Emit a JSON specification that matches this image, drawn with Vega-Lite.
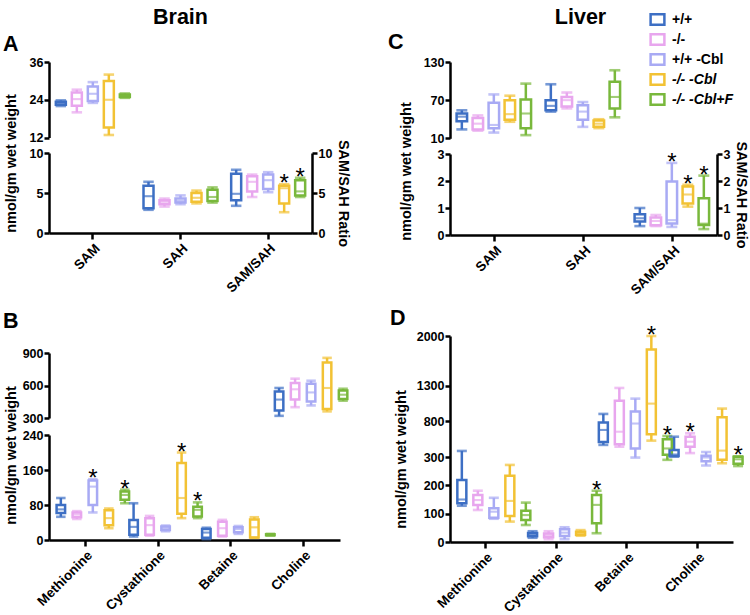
{
"$schema":"https://vega.github.io/schema/vega-lite/v6.json",
"autosize":{"type":"none"},
"padding":{"left":49,"top":52,"right":701,"bottom":563},
"background":"white",
"config":{
 "font":"Liberation Sans",
 "view":{"stroke":null},
 "axis":{"domainColor":"black","domainWidth":2.5,"tickColor":"black","tickWidth":2.5,"tickSize":5,"labelFontWeight":"bold","labelFontSize":12.5,"labelColor":"black","labelPadding":1,"labelOverlap":false,"titleFontWeight":"bold","titleFontSize":14.5,"titleColor":"black","grid":false},
 "title":{"fontSize":21.5,"fontWeight":"bold","color":"black","baseline":"alphabetic"},
 "legend":{"title":null,"orient":"none","legendX":600,"legendY":-41,"padding":0,"symbolType":"M-1,-0.75H1V0.75H-1Z","symbolSize":190,"symbolStrokeWidth":2.5,"labelFontSize":14,"labelFontWeight":"bold","labelColor":"black","labelOffset":6,"rowPadding":-1}
},
"datasets":{
"A":[
{"cat":"SAM","grp":"+/+","min":22.0,"q1":22.4,"med":22.9,"q3":23.4,"max":23.8,"star":false},
{"cat":"SAM","grp":"-/-","min":20.0,"q1":22.1,"med":24.2,"q3":26.3,"max":27.2,"star":false},
{"cat":"SAM","grp":"+/+ -Cbl","min":23.0,"q1":23.6,"med":25.9,"q3":28.2,"max":29.6,"star":false},
{"cat":"SAM","grp":"-/- -Cbl","min":12.8,"q1":15.2,"med":24.0,"q3":30.0,"max":32.0,"star":false},
{"cat":"SAM","grp":"-/- -Cbl+F","min":24.6,"q1":24.9,"med":25.3,"q3":25.7,"max":26.0,"star":false},
{"cat":"SAH","grp":"+/+","min":2.9,"q1":3.1,"med":4.6,"q3":5.9,"max":6.4,"star":false},
{"cat":"SAH","grp":"-/-","min":3.3,"q1":3.6,"med":3.9,"q3":4.1,"max":4.3,"star":false},
{"cat":"SAH","grp":"+/+ -Cbl","min":3.6,"q1":3.8,"med":4.0,"q3":4.3,"max":4.7,"star":false},
{"cat":"SAH","grp":"-/- -Cbl","min":3.7,"q1":3.9,"med":4.4,"q3":5.0,"max":5.3,"star":false},
{"cat":"SAH","grp":"-/- -Cbl+F","min":3.8,"q1":4.0,"med":4.5,"q3":5.4,"max":5.7,"star":false},
{"cat":"SAM/SAH","grp":"+/+","min":3.4,"q1":4.1,"med":4.9,"q3":7.4,"max":7.9,"star":false},
{"cat":"SAM/SAH","grp":"-/-","min":4.5,"q1":5.2,"med":6.4,"q3":7.1,"max":7.3,"star":false},
{"cat":"SAM/SAH","grp":"+/+ -Cbl","min":5.1,"q1":5.5,"med":6.6,"q3":7.3,"max":7.6,"star":false},
{"cat":"SAM/SAH","grp":"-/- -Cbl","min":2.6,"q1":3.7,"med":5.6,"q3":5.9,"max":6.1,"star":true},
{"cat":"SAM/SAH","grp":"-/- -Cbl+F","min":4.5,"q1":4.7,"med":5.2,"q3":6.6,"max":6.9,"star":true}
],
"B":[
{"cat":"Methionine","grp":"+/+","min":53,"q1":62,"med":70,"q3":80,"max":96,"star":false},
{"cat":"Methionine","grp":"-/-","min":48,"q1":52,"med":58,"q3":63,"max":66,"star":false},
{"cat":"Methionine","grp":"+/+ -Cbl","min":63,"q1":80,"med":122,"q3":136,"max":139,"star":true},
{"cat":"Methionine","grp":"-/- -Cbl","min":27,"q1":34,"med":50,"q3":68,"max":72,"star":false},
{"cat":"Methionine","grp":"-/- -Cbl+F","min":84,"q1":92,"med":103,"q3":111,"max":115,"star":true},
{"cat":"Cystathione","grp":"+/+","min":8,"q1":12,"med":30,"q3":46,"max":84,"star":false},
{"cat":"Cystathione","grp":"-/-","min":10,"q1":12,"med":34,"q3":50,"max":55,"star":false},
{"cat":"Cystathione","grp":"+/+ -Cbl","min":20,"q1":23,"med":27,"q3":31,"max":33,"star":false},
{"cat":"Cystathione","grp":"-/- -Cbl","min":50,"q1":60,"med":96,"q3":176,"max":200,"star":true},
{"cat":"Cystathione","grp":"-/- -Cbl+F","min":50,"q1":54,"med":69,"q3":76,"max":86,"star":true},
{"cat":"Betaine","grp":"+/+","min":2,"q1":5,"med":17,"q3":25,"max":28,"star":false},
{"cat":"Betaine","grp":"-/-","min":8,"q1":10,"med":27,"q3":42,"max":46,"star":false},
{"cat":"Betaine","grp":"+/+ -Cbl","min":14,"q1":18,"med":25,"q3":29,"max":32,"star":false},
{"cat":"Betaine","grp":"-/- -Cbl","min":5,"q1":6,"med":29,"q3":47,"max":52,"star":false},
{"cat":"Betaine","grp":"-/- -Cbl+F","min":10,"q1":11,"med":12,"q3":13,"max":14,"star":false},
{"cat":"Choline","grp":"+/+","min":320,"q1":370,"med":470,"q3":545,"max":577,"star":false},
{"cat":"Choline","grp":"-/-","min":400,"q1":470,"med":565,"q3":623,"max":663,"star":false},
{"cat":"Choline","grp":"+/+ -Cbl","min":416,"q1":453,"med":536,"q3":617,"max":644,"star":false},
{"cat":"Choline","grp":"-/- -Cbl","min":361,"q1":383,"med":577,"q3":813,"max":855,"star":false},
{"cat":"Choline","grp":"-/- -Cbl+F","min":460,"q1":475,"med":515,"q3":555,"max":570,"star":false}
],
"C":[
{"cat":"SAM","grp":"+/+","min":24,"q1":37,"med":44,"q3":49,"max":54,"star":false},
{"cat":"SAM","grp":"-/-","min":22,"q1":24,"med":33,"q3":42,"max":46,"star":false},
{"cat":"SAM","grp":"+/+ -Cbl","min":19,"q1":26,"med":31,"q3":66,"max":79,"star":false},
{"cat":"SAM","grp":"-/- -Cbl","min":36,"q1":39,"med":48,"q3":70,"max":77,"star":false},
{"cat":"SAM","grp":"-/- -Cbl+F","min":15,"q1":26,"med":49,"q3":71,"max":96,"star":false},
{"cat":"SAH","grp":"+/+","min":52,"q1":54,"med":61,"q3":70,"max":95,"star":false},
{"cat":"SAH","grp":"-/-","min":57,"q1":60,"med":70,"q3":75,"max":82,"star":false},
{"cat":"SAH","grp":"+/+ -Cbl","min":28,"q1":39,"med":52,"q3":62,"max":67,"star":false},
{"cat":"SAH","grp":"-/- -Cbl","min":26,"q1":28,"med":33,"q3":38,"max":40,"star":false},
{"cat":"SAH","grp":"-/- -Cbl+F","min":43,"q1":57,"med":75,"q3":99,"max":117,"star":false},
{"cat":"SAM/SAH","grp":"+/+","min":0.33,"q1":0.5,"med":0.62,"q3":0.77,"max":1.0,"star":false},
{"cat":"SAM/SAH","grp":"-/-","min":0.33,"q1":0.36,"med":0.52,"q3":0.65,"max":0.74,"star":false},
{"cat":"SAM/SAH","grp":"+/+ -Cbl","min":0.3,"q1":0.43,"med":0.55,"q3":1.98,"max":2.67,"star":true},
{"cat":"SAM/SAH","grp":"-/- -Cbl","min":1.05,"q1":1.17,"med":1.5,"q3":1.8,"max":1.86,"star":true},
{"cat":"SAM/SAH","grp":"-/- -Cbl+F","min":0.22,"q1":0.37,"med":0.42,"q3":1.36,"max":2.2,"star":true}
],
"D":[
{"cat":"Methionine","grp":"+/+","min":128,"q1":137,"med":150,"q3":219,"max":385,"star":false},
{"cat":"Methionine","grp":"-/-","min":113,"q1":131,"med":148,"q3":166,"max":181,"star":false},
{"cat":"Methionine","grp":"+/+ -Cbl","min":82,"q1":86,"med":107,"q3":119,"max":156,"star":false},
{"cat":"Methionine","grp":"-/- -Cbl","min":72,"q1":92,"med":145,"q3":234,"max":272,"star":false},
{"cat":"Methionine","grp":"-/- -Cbl+F","min":60,"q1":78,"med":95,"q3":110,"max":139,"star":false},
{"cat":"Cystathione","grp":"+/+","min":15,"q1":20,"med":26,"q3":32,"max":38,"star":false},
{"cat":"Cystathione","grp":"-/-","min":10,"q1":17,"med":24,"q3":30,"max":38,"star":false},
{"cat":"Cystathione","grp":"+/+ -Cbl","min":10,"q1":21,"med":33,"q3":45,"max":52,"star":false},
{"cat":"Cystathione","grp":"-/- -Cbl","min":22,"q1":26,"med":31,"q3":36,"max":42,"star":false},
{"cat":"Cystathione","grp":"-/- -Cbl+F","min":31,"q1":66,"med":131,"q3":166,"max":181,"star":true},
{"cat":"Betaine","grp":"+/+","min":470,"q1":510,"med":680,"q3":785,"max":905,"star":false},
{"cat":"Betaine","grp":"-/-","min":445,"q1":480,"med":655,"q3":1090,"max":1270,"star":false},
{"cat":"Betaine","grp":"+/+ -Cbl","min":298,"q1":420,"med":770,"q3":940,"max":1120,"star":false},
{"cat":"Betaine","grp":"-/- -Cbl","min":530,"q1":620,"med":1050,"q3":1810,"max":2000,"star":true},
{"cat":"Betaine","grp":"-/- -Cbl+F","min":290,"q1":330,"med":420,"q3":550,"max":595,"star":true},
{"cat":"Choline","grp":"+/+","min":305,"q1":315,"med":335,"q3":400,"max":585,"star":false},
{"cat":"Choline","grp":"-/-","min":355,"q1":445,"med":515,"q3":585,"max":633,"star":true},
{"cat":"Choline","grp":"+/+ -Cbl","min":270,"q1":285,"med":298,"q3":318,"max":370,"star":false},
{"cat":"Choline","grp":"-/- -Cbl","min":278,"q1":290,"med":390,"q3":860,"max":980,"star":false},
{"cat":"Choline","grp":"-/- -Cbl+F","min":268,"q1":276,"med":292,"q3":305,"max":310,"star":true}
]
},
"columns":2,
"align":{"row":"none","column":"each"},
"spacing":{"row":0,"column":110},
"bounds":"flush",
"concat":[
 {"width":263,"height":10,"title":{"text":"Brain","anchor":"middle","frame":"group","offset":24},"data":{"values":[]},"mark":{"type":"point","opacity":0}},
 {"width":267,"height":10,"title":{"text":"Liver","anchor":"middle","frame":"group","offset":24,"dx":-3},"data":{"values":[]},"mark":{"type":"point","opacity":0}},

 {"width":263,"height":171,
  "title":{"text":"A","anchor":"start","frame":"group","dx":-46,"offset":1},
  "resolve":{"scale":{"y":"independent"}},
  "layer":[
   {"data":{"name":"A"},
    "transform":[{"filter":"datum.cat === 'SAM'"}],
    "encoding":{
     "x":{"field":"cat","type":"nominal","sort":null,"scale":{"domain":["SAM","SAH","SAM/SAH"],"paddingInner":0,"paddingOuter":0},"axis":{"title":null,"labelAngle":-45,"labelFontSize":13.5,"tickSize":6,"labelPadding":2}},
     "xOffset":{"field":"grp","type":"nominal","scale":{"domain":["+/+","-/-","+/+ -Cbl","-/- -Cbl","-/- -Cbl+F"],"paddingInner":0,"paddingOuter":0.24}},
     "color":{"field":"grp","type":"nominal","scale":{"domain":["+/+","-/-","+/+ -Cbl","-/- -Cbl","-/- -Cbl+F"],"range":["#3d6fc4","#e8a6ee","#a8aaf4","#f2c234","#79b83c"]},
      "legend":{"encode":{"labels":{"update":{"fontStyle":{"signal":"indexof(datum.value, '-/- -') === 0 ? 'italic' : 'normal'"}}}}}}
    },
    "layer":[
     {"mark":{"type":"rule","strokeWidth":2.5},"encoding":{"y":{"field":"min","type":"quantitative","title":null,"scale":{"domain":[12,36],"range":[75.5,0],"nice":false,"zero":false},"axis":{"orient":"left","values":[12,24,36]}},"y2":{"field":"q1"}}},
     {"mark":{"type":"rule","strokeWidth":2.5},"encoding":{"y":{"field":"q3","type":"quantitative","title":null},"y2":{"field":"max"}}},
     {"mark":{"type":"bar","filled":false,"strokeWidth":2.5,"width":10},"encoding":{"y":{"field":"q1","type":"quantitative","title":null},"y2":{"field":"q3"}}},
     {"mark":{"type":"tick","filled":false,"thickness":0.1,"strokeWidth":2,"size":8},"encoding":{"y":{"field":"med","type":"quantitative","title":null}}},
     {"mark":{"type":"tick","filled":false,"thickness":0.1,"strokeWidth":2.5,"size":8},"encoding":{"y":{"field":"min","type":"quantitative","title":null}}},
     {"mark":{"type":"tick","filled":false,"thickness":0.1,"strokeWidth":2.5,"size":8},"encoding":{"y":{"field":"max","type":"quantitative","title":null}}}
    ]
   },
   {"data":{"name":"A"},
    "transform":[{"filter":"datum.cat !== 'SAM'"}],
    "encoding":{
     "x":{"field":"cat","type":"nominal","sort":null,"scale":{"domain":["SAM","SAH","SAM/SAH"],"paddingInner":0,"paddingOuter":0},"axis":{"title":null,"labelAngle":-45,"labelFontSize":13.5,"tickSize":6,"labelPadding":2}},
     "xOffset":{"field":"grp","type":"nominal","scale":{"domain":["+/+","-/-","+/+ -Cbl","-/- -Cbl","-/- -Cbl+F"],"paddingInner":0,"paddingOuter":0.24}},
     "color":{"field":"grp","type":"nominal","scale":{"domain":["+/+","-/-","+/+ -Cbl","-/- -Cbl","-/- -Cbl+F"],"range":["#3d6fc4","#e8a6ee","#a8aaf4","#f2c234","#79b83c"]},
      "legend":{"encode":{"labels":{"update":{"fontStyle":{"signal":"indexof(datum.value, '-/- -') === 0 ? 'italic' : 'normal'"}}}}}}
    },
    "layer":[
     {"mark":{"type":"rule","strokeWidth":2.5},"encoding":{"y":{"field":"min","type":"quantitative","title":"nmol/gm wet weight","scale":{"domain":[0,10],"range":[171,91],"nice":false,"zero":false},"axis":{"orient":"left","values":[0,5,10],"titleX":-34,"titleY":101,"titleBaseline":"alphabetic","titleAlign":"center","titleAngle":-90}},"y2":{"field":"q1"}}},
     {"mark":{"type":"rule","strokeWidth":2.5},"encoding":{"y":{"field":"q3","type":"quantitative","title":"nmol/gm wet weight"},"y2":{"field":"max"}}},
     {"mark":{"type":"bar","filled":false,"strokeWidth":2.5,"width":10},"encoding":{"y":{"field":"q1","type":"quantitative","title":"nmol/gm wet weight"},"y2":{"field":"q3"}}},
     {"mark":{"type":"tick","filled":false,"thickness":0.1,"strokeWidth":2,"size":8},"encoding":{"y":{"field":"med","type":"quantitative","title":"nmol/gm wet weight"}}},
     {"mark":{"type":"tick","filled":false,"thickness":0.1,"strokeWidth":2.5,"size":8},"encoding":{"y":{"field":"min","type":"quantitative","title":"nmol/gm wet weight"}}},
     {"mark":{"type":"tick","filled":false,"thickness":0.1,"strokeWidth":2.5,"size":8},"encoding":{"y":{"field":"max","type":"quantitative","title":"nmol/gm wet weight"}}},
     {"transform":[{"filter":"datum.star"}],"mark":{"type":"text","text":"*","fontSize":24,"dy":7,"baseline":"alphabetic"},"encoding":{"y":{"field":"max","type":"quantitative","title":"nmol/gm wet weight"},"color":{"value":"black"}}}
    ]
   },
   {"data":{"name":"A"},
    "transform":[{"filter":"datum.cat === 'SAM/SAH'"}],
    "mark":{"type":"tick","opacity":0},
    "encoding":{
     "x":{"field":"cat","type":"nominal","sort":null,"scale":{"domain":["SAM","SAH","SAM/SAH"],"paddingInner":0,"paddingOuter":0},"axis":{"title":null,"labelAngle":-45,"labelFontSize":13.5,"tickSize":6,"labelPadding":2}},
     "y":{"field":"med","type":"quantitative","scale":{"domain":[0,10],"range":[171,91],"nice":false,"zero":false},"axis":{"orient":"right","values":[0,5,10],"title":"SAM/SAH Ratio","titleAngle":90}}
    }
   }
  ]
 },
 {"width":267,"height":173,
  "title":{"text":"C","anchor":"start","frame":"group","dx":-62,"offset":3},
  "resolve":{"scale":{"y":"independent"}},
  "layer":[
   {"data":{"name":"C"},
    "transform":[{"filter":"datum.cat !== 'SAM/SAH'"}],
    "encoding":{
     "x":{"field":"cat","type":"nominal","sort":null,"scale":{"domain":["SAM","SAH","SAM/SAH"],"paddingInner":0,"paddingOuter":0},"axis":{"title":null,"labelAngle":-45,"labelFontSize":13.5,"tickSize":6,"labelPadding":2}},
     "xOffset":{"field":"grp","type":"nominal","scale":{"domain":["+/+","-/-","+/+ -Cbl","-/- -Cbl","-/- -Cbl+F"],"paddingInner":0,"paddingOuter":0.28}},
     "color":{"field":"grp","type":"nominal","scale":{"domain":["+/+","-/-","+/+ -Cbl","-/- -Cbl","-/- -Cbl+F"],"range":["#3d6fc4","#e8a6ee","#a8aaf4","#f2c234","#79b83c"]},
      "legend":{"encode":{"labels":{"update":{"fontStyle":{"signal":"indexof(datum.value, '-/- -') === 0 ? 'italic' : 'normal'"}}}}}}
    },
    "layer":[
     {"mark":{"type":"rule","strokeWidth":2.5},"encoding":{"y":{"field":"min","type":"quantitative","title":null,"scale":{"domain":[10,130],"range":[76.3,0],"nice":false,"zero":false},"axis":{"orient":"left","values":[10,70,130]}},"y2":{"field":"q1"}}},
     {"mark":{"type":"rule","strokeWidth":2.5},"encoding":{"y":{"field":"q3","type":"quantitative","title":null},"y2":{"field":"max"}}},
     {"mark":{"type":"bar","filled":false,"strokeWidth":2.5,"width":10.5},"encoding":{"y":{"field":"q1","type":"quantitative","title":null},"y2":{"field":"q3"}}},
     {"mark":{"type":"tick","filled":false,"thickness":0.1,"strokeWidth":2,"size":8.5},"encoding":{"y":{"field":"med","type":"quantitative","title":null}}},
     {"mark":{"type":"tick","filled":false,"thickness":0.1,"strokeWidth":2.5,"size":8.5},"encoding":{"y":{"field":"min","type":"quantitative","title":null}}},
     {"mark":{"type":"tick","filled":false,"thickness":0.1,"strokeWidth":2.5,"size":8.5},"encoding":{"y":{"field":"max","type":"quantitative","title":null}}}
    ]
   },
   {"data":{"name":"C"},
    "transform":[{"filter":"datum.cat === 'SAM/SAH'"}],
    "encoding":{
     "x":{"field":"cat","type":"nominal","sort":null,"scale":{"domain":["SAM","SAH","SAM/SAH"],"paddingInner":0,"paddingOuter":0},"axis":{"title":null,"labelAngle":-45,"labelFontSize":13.5,"tickSize":6,"labelPadding":2}},
     "xOffset":{"field":"grp","type":"nominal","scale":{"domain":["+/+","-/-","+/+ -Cbl","-/- -Cbl","-/- -Cbl+F"],"paddingInner":0,"paddingOuter":0.28}},
     "color":{"field":"grp","type":"nominal","scale":{"domain":["+/+","-/-","+/+ -Cbl","-/- -Cbl","-/- -Cbl+F"],"range":["#3d6fc4","#e8a6ee","#a8aaf4","#f2c234","#79b83c"]},
      "legend":{"encode":{"labels":{"update":{"fontStyle":{"signal":"indexof(datum.value, '-/- -') === 0 ? 'italic' : 'normal'"}}}}}}
    },
    "layer":[
     {"mark":{"type":"rule","strokeWidth":2.5},"encoding":{"y":{"field":"min","type":"quantitative","title":"nmol/gm wet weight","scale":{"domain":[0,3],"range":[173,92],"nice":false,"zero":false},"axis":{"orient":"left","values":[0,1,2,3],"format":"d","titleX":-40,"titleY":109,"titleBaseline":"alphabetic","titleAlign":"center","titleAngle":-90}},"y2":{"field":"q1"}}},
     {"mark":{"type":"rule","strokeWidth":2.5},"encoding":{"y":{"field":"q3","type":"quantitative","title":"nmol/gm wet weight"},"y2":{"field":"max"}}},
     {"mark":{"type":"bar","filled":false,"strokeWidth":2.5,"width":10.5},"encoding":{"y":{"field":"q1","type":"quantitative","title":"nmol/gm wet weight"},"y2":{"field":"q3"}}},
     {"mark":{"type":"tick","filled":false,"thickness":0.1,"strokeWidth":2,"size":8.5},"encoding":{"y":{"field":"med","type":"quantitative","title":"nmol/gm wet weight"}}},
     {"mark":{"type":"tick","filled":false,"thickness":0.1,"strokeWidth":2.5,"size":8.5},"encoding":{"y":{"field":"min","type":"quantitative","title":"nmol/gm wet weight"}}},
     {"mark":{"type":"tick","filled":false,"thickness":0.1,"strokeWidth":2.5,"size":8.5},"encoding":{"y":{"field":"max","type":"quantitative","title":"nmol/gm wet weight"}}},
     {"transform":[{"filter":"datum.star"}],"mark":{"type":"text","text":"*","fontSize":24,"dy":7,"baseline":"alphabetic"},"encoding":{"y":{"field":"max","type":"quantitative","title":"nmol/gm wet weight"},"color":{"value":"black"}}}
    ]
   },
   {"data":{"name":"C"},
    "transform":[{"filter":"datum.cat === 'SAM/SAH'"}],
    "mark":{"type":"tick","opacity":0},
    "encoding":{
     "x":{"field":"cat","type":"nominal","sort":null,"scale":{"domain":["SAM","SAH","SAM/SAH"],"paddingInner":0,"paddingOuter":0},"axis":{"title":null,"labelAngle":-45,"labelFontSize":13.5,"tickSize":6,"labelPadding":2}},
     "y":{"field":"med","type":"quantitative","scale":{"domain":[0,3],"range":[173,92],"nice":false,"zero":false},"axis":{"orient":"right","values":[0,1,2,3],"format":"d","title":"SAM/SAH Ratio","titleAngle":90}}
    }
   }
  ]
 },

 {"width":1,"height":101,"data":{"values":[]},"mark":{"type":"point","opacity":0}},
 {"width":1,"height":101,"data":{"values":[]},"mark":{"type":"point","opacity":0}},

 {"width":291,"height":204,
  "title":{"text":"B","anchor":"start","frame":"group","dx":-46,"offset":4},
  "resolve":{"scale":{"y":"independent"}},
  "layer":[
   {"data":{"name":"B"},
    "transform":[{"filter":"datum.cat === 'Choline'"}],
    "encoding":{
     "x":{"field":"cat","type":"nominal","sort":null,"scale":{"domain":["Methionine","Cystathione","Betaine","Choline"],"paddingInner":0,"paddingOuter":0},"axis":{"title":null,"labelAngle":-45,"labelFontSize":13.5,"tickSize":6,"labelPadding":2}},
     "xOffset":{"field":"grp","type":"nominal","scale":{"domain":["+/+","-/-","+/+ -Cbl","-/- -Cbl","-/- -Cbl+F"],"paddingInner":0,"paddingOuter":0.19}},
     "color":{"field":"grp","type":"nominal","scale":{"domain":["+/+","-/-","+/+ -Cbl","-/- -Cbl","-/- -Cbl+F"],"range":["#3d6fc4","#e8a6ee","#a8aaf4","#f2c234","#79b83c"]},
      "legend":{"encode":{"labels":{"update":{"fontStyle":{"signal":"indexof(datum.value, '-/- -') === 0 ? 'italic' : 'normal'"}}}}}}
    },
    "layer":[
     {"mark":{"type":"rule","strokeWidth":2.5},"encoding":{"y":{"field":"min","type":"quantitative","title":null,"scale":{"domain":[300,900],"range":[82,17],"nice":false,"zero":false},"axis":{"orient":"left","values":[300,600,900]}},"y2":{"field":"q1"}}},
     {"mark":{"type":"rule","strokeWidth":2.5},"encoding":{"y":{"field":"q3","type":"quantitative","title":null},"y2":{"field":"max"}}},
     {"mark":{"type":"bar","filled":false,"strokeWidth":2.5,"width":8.5},"encoding":{"y":{"field":"q1","type":"quantitative","title":null},"y2":{"field":"q3"}}},
     {"mark":{"type":"tick","filled":false,"thickness":0.1,"strokeWidth":2,"size":7},"encoding":{"y":{"field":"med","type":"quantitative","title":null}}},
     {"mark":{"type":"tick","filled":false,"thickness":0.1,"strokeWidth":2.5,"size":7},"encoding":{"y":{"field":"min","type":"quantitative","title":null}}},
     {"mark":{"type":"tick","filled":false,"thickness":0.1,"strokeWidth":2.5,"size":7},"encoding":{"y":{"field":"max","type":"quantitative","title":null}}}
    ]
   },
   {"data":{"name":"B"},
    "transform":[{"filter":"datum.cat !== 'Choline'"}],
    "encoding":{
     "x":{"field":"cat","type":"nominal","sort":null,"scale":{"domain":["Methionine","Cystathione","Betaine","Choline"],"paddingInner":0,"paddingOuter":0},"axis":{"title":null,"labelAngle":-45,"labelFontSize":13.5,"tickSize":6,"labelPadding":2}},
     "xOffset":{"field":"grp","type":"nominal","scale":{"domain":["+/+","-/-","+/+ -Cbl","-/- -Cbl","-/- -Cbl+F"],"paddingInner":0,"paddingOuter":0.19}},
     "color":{"field":"grp","type":"nominal","scale":{"domain":["+/+","-/-","+/+ -Cbl","-/- -Cbl","-/- -Cbl+F"],"range":["#3d6fc4","#e8a6ee","#a8aaf4","#f2c234","#79b83c"]},
      "legend":{"encode":{"labels":{"update":{"fontStyle":{"signal":"indexof(datum.value, '-/- -') === 0 ? 'italic' : 'normal'"}}}}}}
    },
    "layer":[
     {"mark":{"type":"rule","strokeWidth":2.5},"encoding":{"y":{"field":"min","type":"quantitative","title":"nmol/gm wet weight","scale":{"domain":[0,240],"range":[204,99],"nice":false,"zero":false},"axis":{"orient":"left","values":[0,80,160,240],"titleX":-34,"titleY":119,"titleBaseline":"alphabetic","titleAlign":"center","titleAngle":-90}},"y2":{"field":"q1"}}},
     {"mark":{"type":"rule","strokeWidth":2.5},"encoding":{"y":{"field":"q3","type":"quantitative","title":"nmol/gm wet weight"},"y2":{"field":"max"}}},
     {"mark":{"type":"bar","filled":false,"strokeWidth":2.5,"width":8.5},"encoding":{"y":{"field":"q1","type":"quantitative","title":"nmol/gm wet weight"},"y2":{"field":"q3"}}},
     {"mark":{"type":"tick","filled":false,"thickness":0.1,"strokeWidth":2,"size":7},"encoding":{"y":{"field":"med","type":"quantitative","title":"nmol/gm wet weight"}}},
     {"mark":{"type":"tick","filled":false,"thickness":0.1,"strokeWidth":2.5,"size":7},"encoding":{"y":{"field":"min","type":"quantitative","title":"nmol/gm wet weight"}}},
     {"mark":{"type":"tick","filled":false,"thickness":0.1,"strokeWidth":2.5,"size":7},"encoding":{"y":{"field":"max","type":"quantitative","title":"nmol/gm wet weight"}}},
     {"transform":[{"filter":"datum.star"}],"mark":{"type":"text","text":"*","fontSize":24,"dy":7,"baseline":"alphabetic"},"encoding":{"y":{"field":"max","type":"quantitative","title":"nmol/gm wet weight"},"color":{"value":"black"}}}
    ]
   }
  ]
 },
 {"width":283,"height":206,
  "title":{"text":"D","anchor":"start","frame":"group","dx":-60,"offset":-5},
  "data":{"name":"D"},
  "encoding":{
   "x":{"field":"cat","type":"nominal","sort":null,"scale":{"domain":["Methionine","Cystathione","Betaine","Choline"],"paddingInner":0,"paddingOuter":0},"axis":{"title":null,"labelAngle":-45,"labelFontSize":13.5,"tickSize":6,"labelPadding":2}},
   "xOffset":{"field":"grp","type":"nominal","scale":{"domain":["+/+","-/-","+/+ -Cbl","-/- -Cbl","-/- -Cbl+F"],"paddingInner":0,"paddingOuter":0.22}},
   "color":{"field":"grp","type":"nominal","scale":{"domain":["+/+","-/-","+/+ -Cbl","-/- -Cbl","-/- -Cbl+F"],"range":["#3d6fc4","#e8a6ee","#a8aaf4","#f2c234","#79b83c"]},
    "legend":{"encode":{"labels":{"update":{"fontStyle":{"signal":"indexof(datum.value, '-/- -') === 0 ? 'italic' : 'normal'"}}}}}}
  },
  "layer":[
   {"mark":{"type":"rule","strokeWidth":2.5},"encoding":{"y":{"field":"min","type":"quantitative","title":"nmol/gm wet weight","scale":{"domain":[0,300,2000],"range":[206,121,0],"nice":false,"zero":false},"axis":{"values":[0,100,200,300,800,1300,2000],"tickCount":20,"format":"d","labelOverlap":false,"titleX":-45,"titleY":123,"titleBaseline":"alphabetic","titleAlign":"center","titleAngle":-90}},"y2":{"field":"q1"}}},
   {"mark":{"type":"rule","strokeWidth":2.5},"encoding":{"y":{"field":"q3","type":"quantitative","title":"nmol/gm wet weight"},"y2":{"field":"max"}}},
   {"mark":{"type":"bar","filled":false,"strokeWidth":2.5,"width":9},"encoding":{"y":{"field":"q1","type":"quantitative","title":"nmol/gm wet weight"},"y2":{"field":"q3"}}},
   {"mark":{"type":"tick","filled":false,"thickness":0.1,"strokeWidth":2,"size":7.5},"encoding":{"y":{"field":"med","type":"quantitative","title":"nmol/gm wet weight"}}},
   {"mark":{"type":"tick","filled":false,"thickness":0.1,"strokeWidth":2.5,"size":7.5},"encoding":{"y":{"field":"min","type":"quantitative","title":"nmol/gm wet weight"}}},
   {"mark":{"type":"tick","filled":false,"thickness":0.1,"strokeWidth":2.5,"size":7.5},"encoding":{"y":{"field":"max","type":"quantitative","title":"nmol/gm wet weight"}}},
   {"transform":[{"filter":"datum.star"}],"mark":{"type":"text","text":"*","fontSize":24,"dy":7,"baseline":"alphabetic"},"encoding":{"y":{"field":"max","type":"quantitative","title":"nmol/gm wet weight"},"color":{"value":"black"}}}
  ]
 }
]
}
